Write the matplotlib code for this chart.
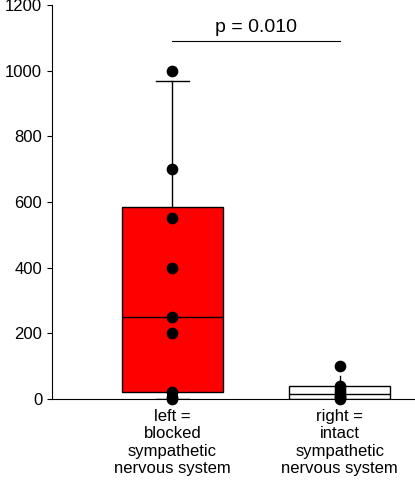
import matplotlib.pyplot as plt

groups = ["left =\nblocked\nsympathetic\nnervous system", "right =\nintact\nsympathetic\nnervous system"]
box_stats = [
    dict(q1=20, med=250, q3=585, whislo=0, whishi=970),
    dict(q1=0, med=15, q3=40, whislo=0, whishi=70),
]
points = [
    [1000, 700, 550, 400, 250, 200, 20, 5, 0],
    [100, 40, 30, 20, 10, 5, 0],
]
colors = ["#ff0000", "white"]
caps = [0.2, 0.0]

plt.rcParams['font.family'] = ['Liberation Sans', 'DejaVu Sans']
fig = plt.figure(figsize=(4.15, 5), dpi=100)
ax = fig.add_axes([0.125, 0.202, 0.875, 0.788])

for i, (st, c) in enumerate(zip(box_stats, colors)):
    st = dict(st, fliers=[])
    ax.bxp([st], positions=[i + 1], widths=0.6, patch_artist=True,
           boxprops=dict(facecolor=c, edgecolor="black", linewidth=1),
           medianprops=dict(color="black", linewidth=1),
           whiskerprops=dict(color="black", linewidth=1),
           capprops=dict(color="black", linewidth=1), capwidths=caps[i])
    ax.scatter([i + 1] * len(points[i]), points[i], s=55, color="black", zorder=5, clip_on=False)

ax.plot([1, 2], [1090, 1090], color="black", linewidth=0.8)
ax.text(1.5, 1105, "p = 0.010", ha="center", va="bottom", fontsize=14)

ax.set_xlim(0.28, 2.45)
ax.set_ylim(0, 1200)
ax.set_yticks(range(0, 1201, 200))
ax.set_xticks([1, 2])
ax.set_xticklabels(groups, fontsize=12)
ax.tick_params(axis="y", labelsize=12)
ax.set_ylabel("Number of bacterial colonies", fontsize=14, labelpad=2)
ax.spines["top"].set_visible(False)
ax.spines["right"].set_visible(False)

fig.savefig("out.png")
